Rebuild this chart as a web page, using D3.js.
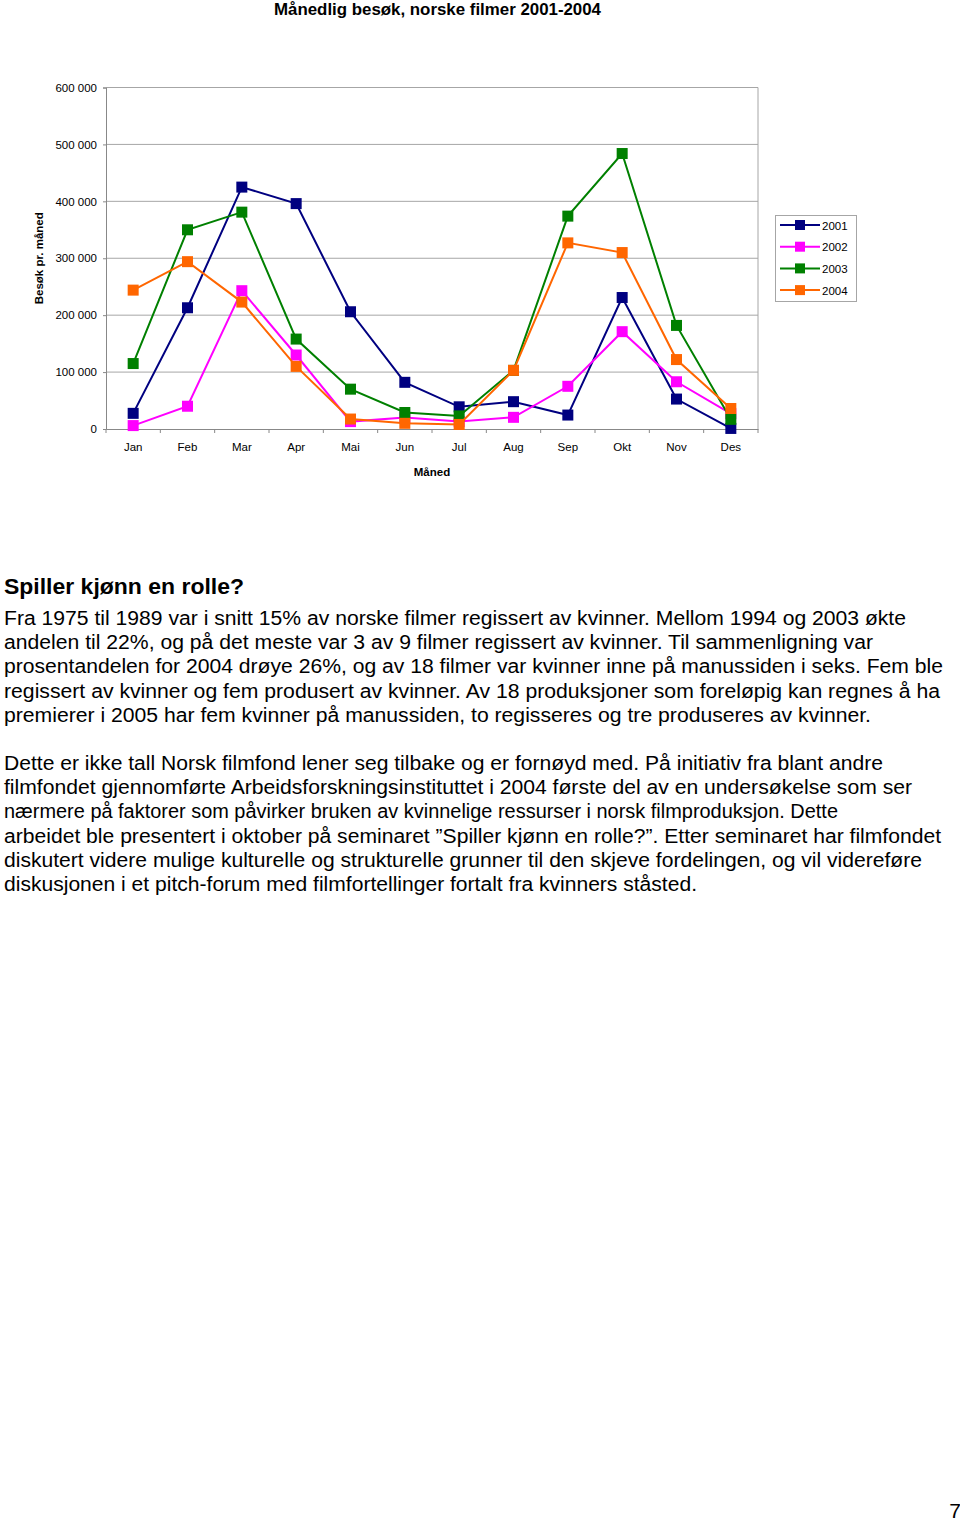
<!DOCTYPE html>
<html><head><meta charset="utf-8">
<script src="https://cdn.jsdelivr.net/npm/d3@7"></script>
<style>
html,body{margin:0;padding:0;background:#fff;}
svg{display:block;font-family:"Liberation Sans",Arial,Helvetica,sans-serif;}
</style></head>
<body>
<svg id="c" width="960" height="1523"></svg>
<script>
const months = ["Jan","Feb","Mar","Apr","Mai","Jun","Jul","Aug","Sep","Okt","Nov","Des"];
const seriesNames = ["2001","2002","2003","2004"];
const v2001 = [27500,213000,425000,396000,206000,82000,39000,48000,24500,231000,52600,1000];
const v2002 = [6000,40000,243000,130000,13000,20000,13000,20500,75000,171000,83000,27000];
const v2003 = [115000,350000,381000,158000,70000,29000,23000,103000,374000,484000,182000,17000];
const v2004 = [244000,294000,223000,110000,17500,10000,8000,103000,327000,310000,122000,36000];
const yTicks = [0,100000,200000,300000,400000,500000,600000];
const colors = ["#000080","#FF00FF","#008000","#FF6600"];
const chartTitle = "Månedlig besøk, norske filmer 2001-2004";
const yTitle = "Besøk pr. måned";
const xTitle = "Måned";
const heading = "Spiller kjønn en rolle?";
const para1 = [
 "Fra 1975 til 1989 var i snitt 15% av norske filmer regissert av kvinner. Mellom 1994 og 2003 økte",
 "andelen til 22%, og på det meste var 3 av 9 filmer regissert av kvinner. Til sammenligning var",
 "prosentandelen for 2004 drøye 26%, og av 18 filmer var kvinner inne på manussiden i seks. Fem ble",
 "regissert av kvinner og fem produsert av kvinner. Av 18 produksjoner som foreløpig kan regnes å ha",
 "premierer i 2005 har fem kvinner på manussiden, to regisseres og tre produseres av kvinner."
];
const para2 = [
 "Dette er ikke tall Norsk filmfond lener seg tilbake og er fornøyd med. På initiativ fra blant andre",
 "filmfondet gjennomførte Arbeidsforskningsinstituttet i 2004 første del av en undersøkelse som ser",
 "nærmere på faktorer som påvirker bruken av kvinnelige ressurser i norsk filmproduksjon. Dette",
 "arbeidet ble presentert i oktober på seminaret ”Spiller kjønn en rolle?”. Etter seminaret har filmfondet",
 "diskutert videre mulige kulturelle og strukturelle grunner til den skjeve fordelingen, og vil videreføre",
 "diskusjonen i et pitch-forum med filmfortellinger fortalt fra kvinners ståsted."
];
const pageNumber = "7";

const series = [v2001,v2002,v2003,v2004].map((vals,i)=>({name:seriesNames[i],color:colors[i],values:vals}));

const svg = d3.select("#c");
const L=106, R=758, T=87.5, B=429;
const x = d3.scaleBand().domain(months).range([L,R]).padding(0);
const cx = m => x(m)+x.bandwidth()/2;
const y = d3.scaleLinear().domain([0,600000]).range([B,T]);

// title
svg.append("text").attr("x",437.5).attr("y",15).attr("text-anchor","middle")
  .attr("font-size",16).attr("font-weight","bold").attr("textLength",327).attr("lengthAdjust","spacingAndGlyphs")
  .text(chartTitle);

// gridlines
svg.append("g").selectAll("line").data(yTicks.filter(d=>d>0)).join("line")
  .attr("x1",L).attr("x2",R).attr("y1",d=>y(d)).attr("y2",d=>y(d))
  .attr("stroke","#a6a6a6").attr("stroke-width",1);
// right border
svg.append("line").attr("x1",R).attr("x2",R).attr("y1",T).attr("y2",B).attr("stroke","#a6a6a6");

// y axis
const fmt = d => d3.format(",")(d).replace(/,/g," ");
const yAxis = d3.axisLeft(y).tickValues(yTicks).tickFormat(fmt).tickSize(3).tickPadding(6);
const gy = svg.append("g").attr("transform",`translate(${L},0)`).call(yAxis);
gy.select(".domain").attr("stroke","#888");
gy.selectAll(".tick line").attr("stroke","#888");
gy.selectAll("text").attr("font-size",11.5).attr("fill","#000").attr("font-family","Liberation Sans, Arial, sans-serif");

// x axis
const xAxis = d3.axisBottom(x).tickSize(0).tickPadding(14);
const gx = svg.append("g").attr("transform",`translate(0,${B})`).call(xAxis);
gx.select(".domain").attr("stroke","#888");
gx.selectAll("text").attr("font-size",11.5).attr("fill","#000").attr("font-family","Liberation Sans, Arial, sans-serif");
// x tick marks at band boundaries
const bounds = months.map(m=>x(m)).concat([R]);
svg.append("g").selectAll("line").data(bounds).join("line")
  .attr("x1",d=>d).attr("x2",d=>d).attr("y1",B).attr("y2",B+4).attr("stroke","#888");

// axis titles
svg.append("text").attr("transform",`translate(43,${(T+B)/2}) rotate(-90)`).attr("text-anchor","middle")
  .attr("font-size",11.5).attr("font-weight","bold").text(yTitle);
svg.append("text").attr("x",432).attr("y",476).attr("text-anchor","middle")
  .attr("font-size",11.5).attr("font-weight","bold").text(xTitle);

// lines and markers
const line = d3.line().x((d,i)=>cx(months[i])).y(d=>y(d));
const gs = svg.append("g").selectAll("g").data(series).join("g");
gs.append("path").attr("d",d=>line(d.values)).attr("fill","none").attr("stroke",d=>d.color).attr("stroke-width",2);
const ms = 11;
gs.each(function(s){
  d3.select(this).selectAll("rect").data(s.values).join("rect")
    .attr("x",(d,i)=>cx(months[i])-ms/2).attr("y",d=>y(d)-ms/2)
    .attr("width",ms).attr("height",ms).attr("fill",s.color);
});

// legend
const lg = svg.append("g");
lg.append("rect").attr("x",775.5).attr("y",215.5).attr("width",81).attr("height",86)
  .attr("fill","#fff").attr("stroke","#a6a6a6");
const li = lg.selectAll("g").data(series).join("g")
  .attr("transform",(d,i)=>`translate(0,${225+i*21.7})`);
li.append("line").attr("x1",780).attr("x2",820).attr("y1",0).attr("y2",0).attr("stroke",d=>d.color).attr("stroke-width",2);
li.append("rect").attr("x",795).attr("y",-5).attr("width",10).attr("height",10).attr("fill",d=>d.color);
li.append("text").attr("x",822).attr("y",4.5).attr("font-size",11.5).text(d=>d.name);

// text
svg.append("text").attr("x",4).attr("y",594).attr("font-size",22).attr("font-weight","bold")
  .attr("textLength",240).attr("lengthAdjust","spacingAndGlyphs").text(heading);
const w1 = [902,869,939,936,867];
const w2 = [879,908,834,937,918,693];
svg.append("g").selectAll("text").data(para1).join("text")
  .attr("x",4).attr("y",(d,i)=>625+i*24.2).attr("font-size",20)
  .attr("textLength",(d,i)=>w1[i]).attr("lengthAdjust","spacingAndGlyphs").text(d=>d);
svg.append("g").selectAll("text").data(para2).join("text")
  .attr("x",4).attr("y",(d,i)=>770+i*24.2).attr("font-size",20)
  .attr("textLength",(d,i)=>w2[i]).attr("lengthAdjust","spacingAndGlyphs").text(d=>d);

svg.append("text").attr("x",955).attr("y",1518).attr("text-anchor","middle").attr("font-size",21).text(pageNumber);
</script>
</body></html>
